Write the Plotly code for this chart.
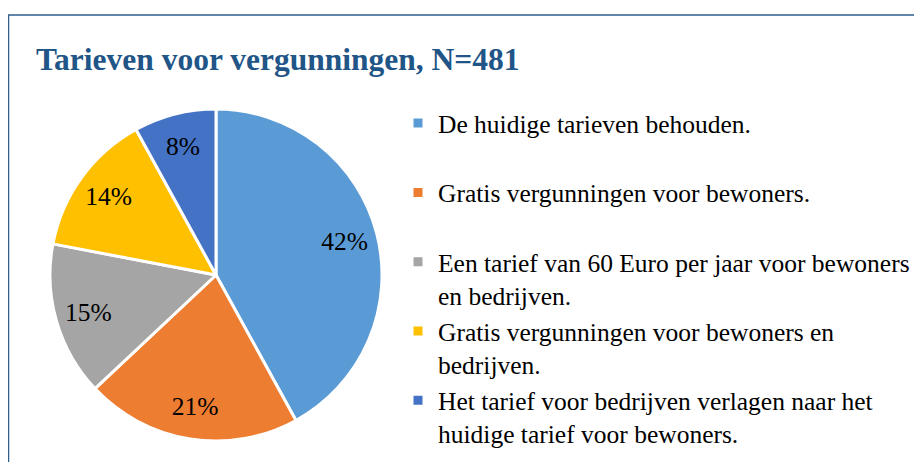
import plotly.graph_objects as go

# Survey: tariffs for parking permits (N=481)
labels = [
    "De huidige tarieven behouden.<br>\u00a0",
    "Gratis vergunningen voor bewoners.<br>\u00a0",
    "Een tarief van 60 Euro per jaar voor bewoners<br>en bedrijven.",
    "Gratis vergunningen voor bewoners en<br>bedrijven.",
    "Het tarief voor bedrijven verlagen naar het<br>huidige tarief voor bewoners.",
]
shares = [42, 21, 15, 14, 8]
colors = ["#5B9BD5", "#ED7D31", "#A5A5A5", "#FFC000", "#4472C4"]

W, H = 922, 462
OFF = 8  # page body margin around the plot div
SERIF = "Liberation Serif"

pie_domain = dict(x=[(50 - OFF) / W, (382 - OFF) / W],
                  y=[1 - (441 - OFF) / H, 1 - (109 - OFF) / H])

fig = go.Figure()

# the coloured pie
fig.add_trace(go.Pie(
    labels=labels,
    values=shares,
    sort=False,
    direction="clockwise",
    rotation=0,
    marker=dict(colors=colors, line=dict(color="white", width=3)),
    textinfo="none",
    domain=pie_domain,
    hoverinfo="label+percent",
))

# transparent ring on top, only there to put the labels near the rim
fig.add_trace(go.Pie(
    labels=labels,
    values=shares,
    sort=False,
    direction="clockwise",
    rotation=0,
    hole=0.6,
    marker=dict(colors=["rgba(0,0,0,0)"] * len(shares), line=dict(width=0)),
    texttemplate="%{percent:.0%}",
    textposition="inside",
    insidetextorientation="horizontal",
    textfont=dict(family=SERIF, size=25.5, color="#000000"),
    domain=pie_domain,
    showlegend=False,
    hoverinfo="skip",
))

fig.update_layout(
    width=W,
    height=H,
    margin=dict(l=0, r=0, t=0, b=0),
    paper_bgcolor="white",
    title=dict(
        text="<b>Tarieven voor vergunningen, N=481</b>",
        font=dict(family=SERIF, size=31.5, color="#1F5587"),
        x=(36 - OFF) / W,
        xanchor="left",
        y=1 - (59 - OFF) / H,
        yanchor="middle",
    ),
    legend=dict(
        x=(398 - OFF) / W,
        xanchor="left",
        y=1 - 92 / H,
        yanchor="top",
        valign="top",
        font=dict(family=SERIF, size=25.5, color="#000000"),
        bgcolor="rgba(0,0,0,0)",
    ),
    shapes=[dict(
        type="rect", xref="paper", yref="paper",
        x0=0.5 / W, x1=1.05, y0=-0.05, y1=1 - (15 - OFF) / H,
        line=dict(color="#2E5F8E", width=1.5),
        fillcolor="rgba(0,0,0,0)",
    )],
)

fig.write_html("out.html")
